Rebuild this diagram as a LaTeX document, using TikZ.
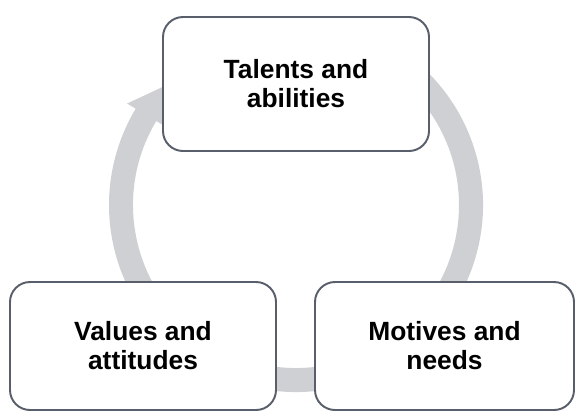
\documentclass[tikz,border=0pt]{standalone}
\usepackage{fontspec}
\setmainfont{Liberation Sans}
\definecolor{ringgray}{RGB}{206,208,211}
\definecolor{boxline}{RGB}{88,94,106}
\newcommand{\ringarrow}[2]{%
   % inner radius, middle radius, outer radius, start angle,
   % end angle (clockwise), tip angle beyond the end
   \pgfmathsetmacro{\rin}{3.26}
   \pgfmathsetmacro{\rmid}{3.5}
   \pgfmathsetmacro{\rout}{3.74}
   \pgfmathsetmacro{\astart}{#1}
   \pgfmathsetmacro{\aend}{#2}
   \pgfmathsetmacro{\atip}{13}
   \fill[ringgray] (\astart:\rout)
                arc (\astart:\aend:\rout)
      -- (\aend:\rout+0.2)
      -- (\aend-\atip:\rmid)
      -- (\aend:\rin-0.2)
      -- (\aend:\rin) arc (\aend:\astart:\rin)
      -- cycle;
}

\begin{document}
\begin{tikzpicture}[
   cyclebox/.style = {draw=boxline, line width=1.1pt, fill=white,
      rounded corners=0.4cm, align=center, inner sep=0pt,
      minimum width=5.32cm,
      font=\bfseries\fontsize{15}{16.5}\selectfont}
]
\useasboundingbox (0,0) rectangle (11.5,-8.22);

\begin{scope}[shift={(5.92,-4.10)}]
   \ringarrow{70}{-211}
\end{scope}

\node[cyclebox, minimum height=2.68cm] (talents) at (5.92,-1.68) {Talents and\\abilities};
\node[cyclebox, minimum height=2.56cm] (values) at (2.86,-6.92) {Values and\\attitudes};
\node[cyclebox, minimum height=2.56cm, minimum width=5.18cm] (motives) at (8.89,-6.92) {Motives and\\needs};

\end{tikzpicture}
\end{document}
